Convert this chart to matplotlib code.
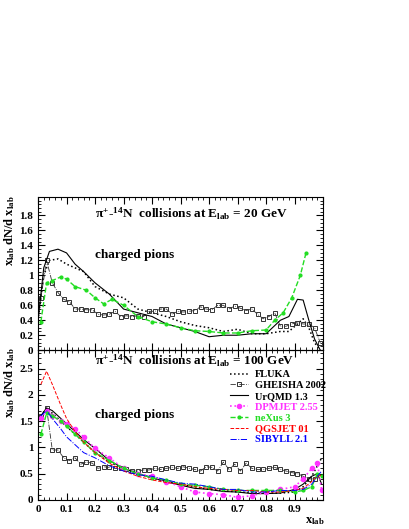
import numpy as np
import matplotlib
matplotlib.use("Agg")
import matplotlib.pyplot as plt
from matplotlib.ticker import MultipleLocator

plt.rcParams['font.family'] = ['Liberation Serif', 'DejaVu Serif']
plt.rcParams['mathtext.fontset'] = 'custom'
plt.rcParams['mathtext.rm'] = 'Liberation Serif:bold'
plt.rcParams['mathtext.it'] = 'Liberation Serif:bold'
plt.rcParams['mathtext.bf'] = 'Liberation Serif:bold'

# ---- 20 GeV panel ----
x20 = [0.0, 0.02, 0.04, 0.07, 0.1, 0.13, 0.16, 0.2, 0.25, 0.3, 0.35, 0.4, 0.45, 0.5,
       0.55, 0.6, 0.65, 0.7, 0.75, 0.8, 0.85, 0.88, 0.91, 0.93, 0.95, 0.97, 0.99]
urqmd20 = [0.4, 1.1, 1.32, 1.35, 1.3, 1.15, 1.05, 0.9, 0.75, 0.55, 0.5, 0.45, 0.35, 0.3,
           0.25, 0.18, 0.2, 0.2, 0.22, 0.22, 0.4, 0.45, 0.68, 0.67, 0.4, 0.15, 0.0]
fluka20 = [0.4, 1.0, 1.2, 1.22, 1.15, 1.1, 1.05, 0.85, 0.75, 0.7, 0.55, 0.5, 0.45, 0.38,
           0.33, 0.3, 0.25, 0.28, 0.22, 0.22, 0.25, 0.25, 0.35, 0.42, 0.3, 0.1, 0.0]
xnex20 = [0.01, 0.03, 0.05, 0.08, 0.1, 0.13, 0.17, 0.2, 0.23, 0.26, 0.3, 0.35, 0.4, 0.45,
          0.5, 0.55, 0.6, 0.65, 0.7, 0.75, 0.8, 0.83, 0.86, 0.89, 0.92, 0.94]
nexus20 = [0.38, 0.9, 0.93, 0.98, 0.95, 0.85, 0.8, 0.7, 0.62, 0.68, 0.6, 0.45, 0.38, 0.35,
           0.3, 0.26, 0.25, 0.23, 0.23, 0.26, 0.27, 0.4, 0.5, 0.7, 1.0, 1.3]
gheisha20 = [0.7, 1.2, 0.9, 0.77, 0.68, 0.65, 0.55, 0.55, 0.54, 0.54, 0.48, 0.47, 0.48,
             0.52, 0.45, 0.46, 0.45, 0.46, 0.45, 0.52, 0.52, 0.55, 0.55, 0.48, 0.52, 0.51,
             0.52, 0.53, 0.58, 0.55, 0.54, 0.60, 0.60, 0.55, 0.59, 0.56, 0.53, 0.55, 0.48,
             0.42, 0.45, 0.50, 0.32, 0.32, 0.35, 0.37, 0.35, 0.35, 0.30, 0.1]

# ---- 100 GeV panel ----
x100 = [0.01, 0.03, 0.05, 0.08, 0.1, 0.13, 0.16, 0.2, 0.25, 0.3, 0.35, 0.4, 0.45, 0.5,
        0.55, 0.6, 0.65, 0.7, 0.75, 0.8, 0.85, 0.9, 0.93, 0.96, 0.98, 0.995]
fluka100 = [1.6, 1.75, 1.65, 1.5, 1.4, 1.25, 1.1, 0.9, 0.72, 0.6, 0.5, 0.42, 0.35, 0.3,
            0.25, 0.2, 0.18, 0.15, 0.14, 0.13, 0.13, 0.15, 0.25, 0.45, 0.65, 0.8]
urqmd100 = [1.6, 1.75, 1.7, 1.55, 1.45, 1.3, 1.15, 0.98, 0.75, 0.6, 0.5, 0.42, 0.35, 0.28,
            0.22, 0.2, 0.16, 0.15, 0.12, 0.12, 0.13, 0.2, 0.3, 0.45, 0.5, 0.3]
dpmjet100 = [1.55, 1.7, 1.6, 1.5, 1.45, 1.35, 1.2, 0.98, 0.8, 0.6, 0.5, 0.45, 0.35, 0.25,
             0.15, 0.12, 0.1, 0.05, 0.08, 0.15, 0.2, 0.25, 0.4, 0.6, 0.7, 0.18]
nexus100 = [1.25, 1.65, 1.6, 1.5, 1.4, 1.25, 1.1, 0.9, 0.75, 0.6, 0.5, 0.42, 0.38, 0.3,
            0.28, 0.25, 0.2, 0.18, 0.18, 0.18, 0.18, 0.15, 0.18, 0.25, 0.5, 0.45]
qgsjet100 = [2.2, 2.45, 2.2, 1.8, 1.55, 1.3, 1.1, 0.9, 0.7, 0.55, 0.45, 0.38, 0.33, 0.3,
             0.25, 0.22, 0.2, 0.18, 0.18, 0.15, 0.15, 0.18, 0.22, 0.35, 0.45, 0.47]
sibyll100 = [1.6, 1.7, 1.55, 1.35, 1.2, 1.05, 0.9, 0.8, 0.65, 0.55, 0.48, 0.45, 0.38, 0.32,
             0.3, 0.25, 0.2, 0.2, 0.15, 0.15, 0.18, 0.18, 0.2, 0.3, 0.45, 0.55]
gheisha100 = [1.6, 1.75, 0.95, 0.95, 0.8, 0.75, 0.8, 0.68, 0.72, 0.7, 0.6, 0.63, 0.62, 0.6,
              0.6, 0.58, 0.55, 0.55, 0.57, 0.57, 0.6, 0.58, 0.6, 0.62, 0.6, 0.63, 0.6, 0.58,
              0.55, 0.63, 0.62, 0.55, 0.72, 0.58, 0.68, 0.55, 0.70, 0.6, 0.58, 0.58, 0.6,
              0.62, 0.58, 0.55, 0.52, 0.5, 0.45, 0.4, 0.4]

xg20 = 0.01 + 0.02 * np.arange(len(gheisha20))
xg100 = 0.01 + 0.02 * np.arange(len(gheisha100))

fig = plt.figure(figsize=(4.09, 5.29), dpi=100)
ax1 = fig.add_axes([0.093, 0.338, 0.697, 0.29])
ax2 = fig.add_axes([0.093, 0.055, 0.697, 0.283])
ax1.set_zorder(3)
ax1.patch.set_alpha(0)

sq = dict(marker='s', mfc='none', mec='#333333', ms=3.2, mew=0.7, color='#333333',
          ls='-.', lw=0.6)
nx = dict(color='#22dd22', ls='--', lw=1.0, marker='o', ms=2)

ax1.plot(x20, fluka20, color='black', ls=':', lw=1.1)
ax1.plot(xg20, gheisha20, **sq)
ax1.plot(x20, urqmd20, color='black', lw=0.8)
ax1.plot(xnex20, nexus20, **nx)

ax2.plot(x100, fluka100, color='black', ls=':', lw=1.1, label='FLUKA')
ax2.plot(xg100, gheisha100, label='GHEISHA 2002', **sq)
ax2.plot(x100, urqmd100, color='black', lw=0.8, label='UrQMD 1.3')
ax2.plot(x100, dpmjet100, color='#ff33ff', ls=':', lw=1.2, marker='o', ms=3,
         label='DPMJET 2.55')
ax2.plot(x100, nexus100, label='neXus 3', **nx)
ax2.plot(x100, qgsjet100, color='red', ls='--', lw=0.7, label='QGSJET 01')
ax2.plot(x100, sibyll100, color='blue', ls='-.', lw=0.7, label='SIBYLL 2.1')

leg = ax2.legend(loc='upper left', bbox_to_anchor=(0.65, 0.91), frameon=False,
                 handlelength=1.8, handletextpad=0.6, labelspacing=0.15, borderpad=0.1,
                 prop={'weight': 'bold', 'size': 7.5})
for t, c in zip(leg.get_texts(), ['black', 'black', 'black', '#ff33ff', '#22dd22',
                                  'red', 'blue']):
    t.set_color(c)

for ax in (ax1, ax2):
    ax.set_xlim(0, 1.0)
    ax.xaxis.set_major_locator(MultipleLocator(0.1))
    ax.xaxis.set_minor_locator(MultipleLocator(0.02))
    ax.tick_params(which='both', direction='in', top=True, right=True, labelsize=8)
    ax.tick_params(which='major', length=5)
    ax.tick_params(which='minor', length=2.5)
    ax.set_ylabel(r'x$_{lab}$ dN/d x$_{lab}$', fontsize=9, fontweight='bold', labelpad=1)
    ax.yaxis.set_label_coords(-0.075, 0.78)

ax1.set_ylim(0, 2.05)
ax1.yaxis.set_minor_locator(MultipleLocator(0.05))
ax1.set_yticks(np.arange(0, 2.0, 0.2))
ax1.set_yticklabels(['0', '0.2', '0.4', '0.6', '0.8', '1', '1.2', '1.4', '1.6', '1.8'],
                    fontweight='bold')
ax1.tick_params(labelbottom=False)

ax2.set_ylim(0, 2.85)
ax2.yaxis.set_minor_locator(MultipleLocator(0.1))
ax2.set_yticks([0, 0.5, 1, 1.5, 2, 2.5])
ax2.set_yticklabels(['0', '0.5', '1', '1.5', '2', '2.5'], fontweight='bold')
ax2.set_xticks(np.arange(0, 1.0, 0.1))
ax2.set_xticklabels(['0', '0.1', '0.2', '0.3', '0.4', '0.5', '0.6', '0.7', '0.8', '0.9'],
                    fontweight='bold')
ax2.set_xlabel(r'x$_{lab}$', fontsize=9, fontweight='bold')
ax2.xaxis.set_label_coords(0.97, -0.1)

ax1.text(0.2, 0.86, r'$\pi^{+}$-$^{14}$N  collisions at E$_{lab}$ = 20 GeV',
         transform=ax1.transAxes, fontsize=9.5, fontweight='bold')
ax1.text(0.2, 0.6, 'charged pions', transform=ax1.transAxes, fontsize=9.5,
         fontweight='bold')
ax2.text(0.2, 0.9, r'$\pi^{+}$-$^{14}$N  collisions at E$_{lab}$ = 100 GeV',
         transform=ax2.transAxes, fontsize=9.5, fontweight='bold')
ax2.text(0.2, 0.55, 'charged pions', transform=ax2.transAxes, fontsize=9.5,
         fontweight='bold')

fig.savefig('out.png', dpi=100)
